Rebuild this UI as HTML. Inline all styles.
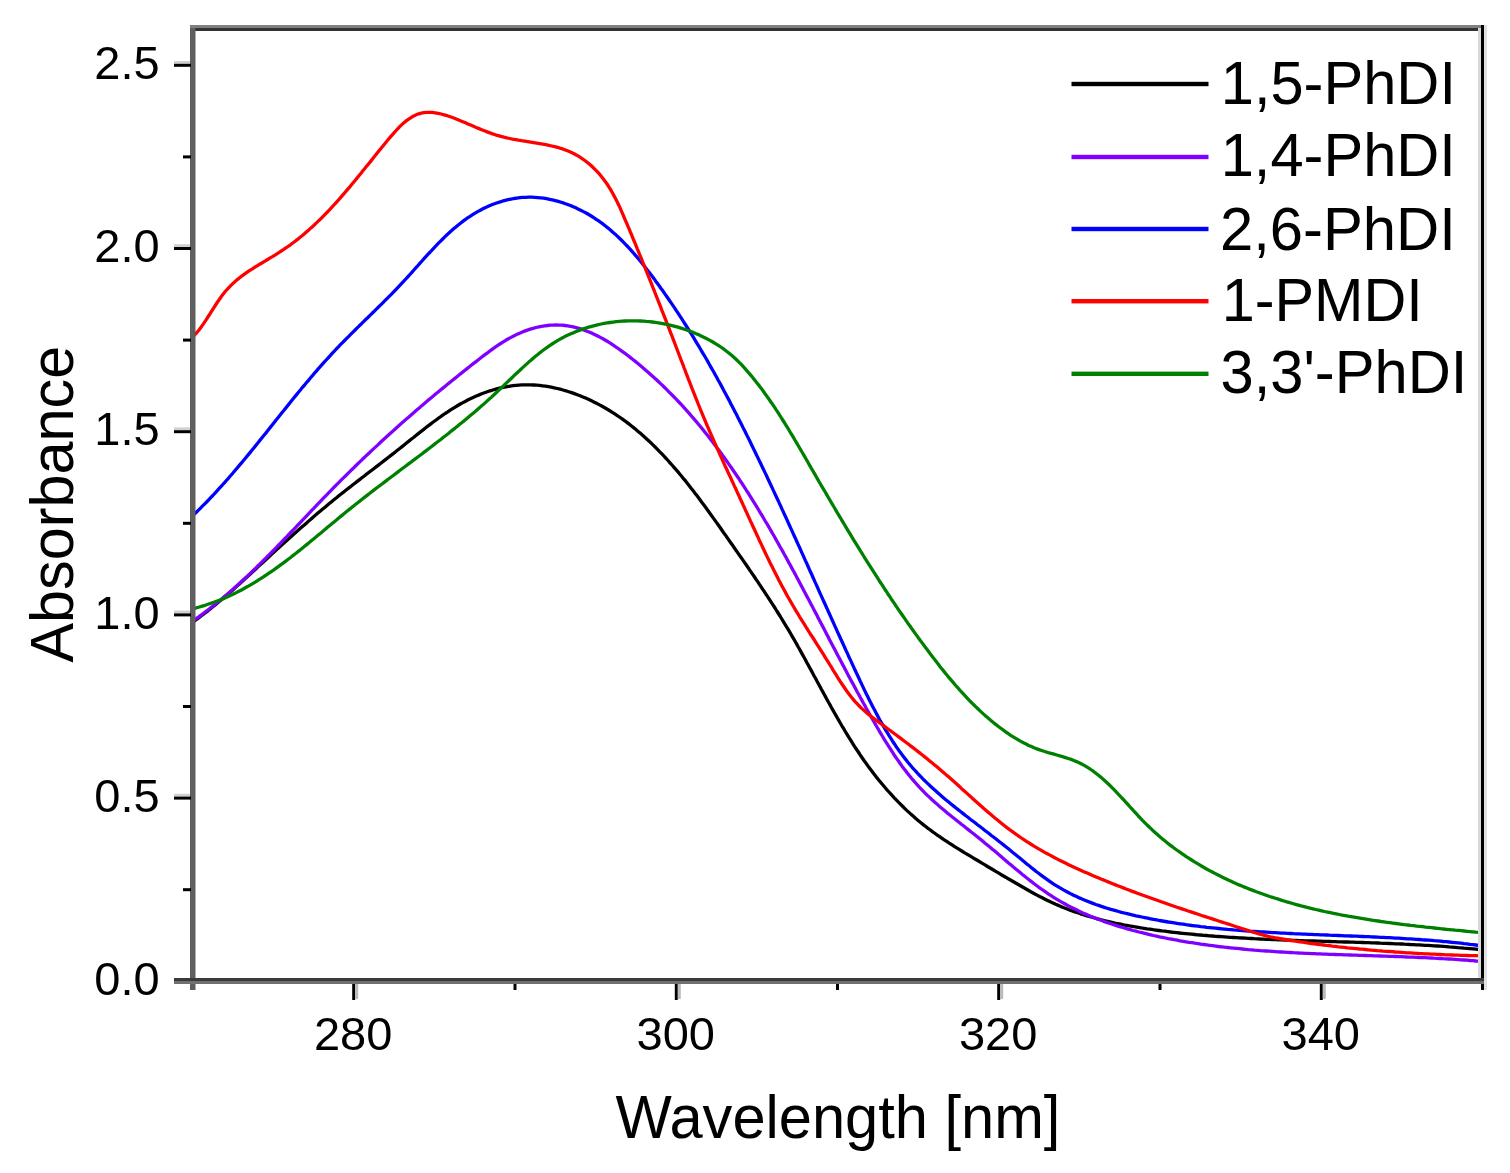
<!DOCTYPE html>
<html><head><meta charset="utf-8"><title>Absorbance spectra</title>
<style>html,body{margin:0;padding:0;background:#fff;width:1510px;height:1173px;overflow:hidden}</style>
</head><body>
<svg width="1510" height="1173" viewBox="0 0 1510 1173" style="display:block">
<rect width="1510" height="1173" fill="#fff"/>
<defs><clipPath id="pc"><rect x="193" y="28" width="1289" height="952"/></clipPath></defs>
<g clip-path="url(#pc)" fill="none" stroke-width="3.3" stroke-linejoin="round" stroke-linecap="round">
<path stroke="#000000" d="M193.8,621.3 L196.2,619.6 L198.7,617.8 L201.1,616.0 L203.4,614.2 L205.8,612.4 L208.2,610.6 L210.5,608.7 L212.9,606.8 L215.2,604.9 L217.5,603.0 L219.8,601.1 L222.1,599.2 L224.4,597.2 L226.6,595.3 L228.9,593.3 L231.1,591.4 L233.4,589.4 L235.6,587.4 L237.8,585.4 L240.1,583.4 L242.3,581.3 L244.5,579.3 L246.7,577.3 L248.9,575.3 L251.1,573.2 L253.3,571.2 L255.5,569.2 L257.7,567.1 L260.0,565.1 L262.2,563.1 L264.4,561.0 L266.6,559.0 L268.8,557.0 L271.0,554.9 L273.2,552.9 L275.4,550.9 L277.6,548.9 L279.8,546.8 L282.0,544.8 L284.2,542.8 L286.5,540.8 L288.7,538.8 L290.9,536.8 L293.1,534.8 L295.4,532.8 L297.6,530.8 L299.8,528.8 L302.1,526.8 L304.3,524.9 L306.6,522.9 L308.8,520.9 L311.1,519.0 L313.3,517.0 L315.6,515.1 L317.9,513.1 L320.1,511.2 L322.4,509.3 L324.7,507.4 L327.0,505.5 L329.3,503.6 L331.6,501.7 L333.9,499.8 L336.2,498.0 L338.5,496.1 L340.8,494.2 L343.2,492.4 L345.5,490.5 L347.8,488.7 L350.2,486.9 L352.5,485.0 L354.9,483.2 L357.2,481.4 L359.6,479.6 L361.9,477.8 L364.3,476.0 L366.6,474.1 L369.0,472.3 L371.4,470.5 L373.7,468.7 L376.1,466.9 L378.4,465.1 L380.8,463.2 L383.2,461.4 L385.5,459.6 L387.9,457.7 L390.3,455.9 L392.6,454.1 L395.0,452.2 L397.4,450.3 L399.7,448.5 L402.1,446.6 L404.4,444.7 L406.8,442.8 L409.2,440.9 L411.5,439.0 L413.9,437.2 L416.2,435.3 L418.6,433.4 L421.0,431.5 L423.4,429.6 L425.7,427.8 L428.1,425.9 L430.5,424.1 L432.9,422.3 L435.4,420.5 L437.8,418.7 L440.2,417.0 L442.7,415.2 L445.2,413.5 L447.7,411.9 L450.2,410.2 L452.7,408.6 L455.2,407.1 L457.8,405.5 L460.3,404.0 L462.9,402.6 L465.6,401.2 L468.2,399.8 L470.9,398.5 L473.6,397.3 L476.3,396.1 L479.0,394.9 L481.7,393.8 L484.5,392.8 L487.3,391.8 L490.1,390.8 L492.9,390.0 L495.8,389.2 L498.6,388.4 L501.5,387.7 L504.4,387.1 L507.2,386.6 L510.1,386.1 L513.0,385.7 L516.0,385.4 L518.9,385.1 L521.8,384.9 L524.8,384.8 L527.7,384.8 L530.7,384.9 L533.6,385.0 L536.6,385.2 L539.5,385.4 L542.5,385.8 L545.4,386.2 L548.4,386.7 L551.3,387.2 L554.2,387.8 L557.2,388.5 L560.1,389.2 L563.0,390.0 L565.9,390.8 L568.7,391.7 L571.6,392.6 L574.4,393.6 L577.3,394.7 L580.1,395.7 L582.9,396.9 L585.6,398.1 L588.4,399.3 L591.1,400.6 L593.8,401.9 L596.5,403.2 L599.1,404.6 L601.7,406.0 L604.3,407.5 L606.9,409.0 L609.4,410.5 L611.9,412.1 L614.4,413.7 L616.9,415.3 L619.4,417.0 L621.8,418.6 L624.2,420.4 L626.6,422.1 L628.9,423.9 L631.2,425.7 L633.6,427.6 L635.9,429.5 L638.1,431.4 L640.4,433.3 L642.6,435.3 L644.8,437.2 L647.0,439.2 L649.2,441.3 L651.4,443.3 L653.5,445.4 L655.6,447.5 L657.7,449.6 L659.8,451.8 L661.9,453.9 L664.0,456.1 L666.0,458.3 L668.0,460.5 L670.0,462.8 L672.0,465.0 L674.0,467.3 L676.0,469.6 L678.0,471.9 L679.9,474.2 L681.8,476.5 L683.7,478.9 L685.7,481.2 L687.5,483.6 L689.4,486.0 L691.3,488.4 L693.2,490.8 L695.0,493.2 L696.9,495.6 L698.7,498.0 L700.5,500.5 L702.3,502.9 L704.1,505.3 L705.9,507.8 L707.7,510.3 L709.5,512.7 L711.3,515.2 L713.0,517.6 L714.8,520.1 L716.6,522.6 L718.3,525.0 L720.1,527.5 L721.8,530.0 L723.5,532.5 L725.3,534.9 L727.0,537.4 L728.7,539.9 L730.4,542.3 L732.2,544.8 L733.9,547.2 L735.6,549.7 L737.3,552.1 L739.0,554.6 L740.7,557.0 L742.4,559.4 L744.1,561.9 L745.8,564.3 L747.5,566.8 L749.1,569.2 L750.8,571.6 L752.5,574.1 L754.2,576.5 L755.8,579.0 L757.5,581.4 L759.1,583.9 L760.8,586.3 L762.4,588.8 L764.0,591.2 L765.6,593.7 L767.3,596.1 L768.9,598.6 L770.5,601.1 L772.1,603.6 L773.7,606.0 L775.3,608.5 L776.8,611.0 L778.4,613.5 L780.0,616.0 L781.5,618.5 L783.1,621.1 L784.6,623.6 L786.1,626.1 L787.7,628.7 L789.2,631.2 L790.7,633.8 L792.2,636.4 L793.7,638.9 L795.2,641.5 L796.7,644.1 L798.1,646.7 L799.6,649.3 L801.0,651.9 L802.5,654.6 L804.0,657.2 L805.4,659.8 L806.8,662.5 L808.3,665.1 L809.7,667.7 L811.2,670.4 L812.6,673.0 L814.0,675.7 L815.5,678.3 L816.9,681.0 L818.4,683.7 L819.8,686.3 L821.2,689.0 L822.7,691.6 L824.1,694.3 L825.6,696.9 L827.0,699.6 L828.5,702.2 L830.0,704.9 L831.4,707.5 L832.9,710.1 L834.4,712.8 L835.9,715.4 L837.4,718.0 L838.9,720.6 L840.4,723.2 L841.9,725.8 L843.5,728.4 L845.0,731.0 L846.6,733.6 L848.1,736.1 L849.7,738.7 L851.3,741.2 L852.9,743.8 L854.5,746.3 L856.1,748.8 L857.8,751.3 L859.5,753.8 L861.1,756.3 L862.8,758.7 L864.5,761.2 L866.3,763.6 L868.0,766.0 L869.8,768.4 L871.6,770.8 L873.4,773.2 L875.2,775.5 L877.0,777.9 L878.9,780.2 L880.8,782.5 L882.7,784.8 L884.6,787.0 L886.5,789.3 L888.5,791.5 L890.5,793.7 L892.5,795.9 L894.5,798.1 L896.5,800.2 L898.6,802.3 L900.7,804.4 L902.8,806.5 L904.9,808.6 L907.0,810.6 L909.2,812.6 L911.4,814.6 L913.6,816.5 L915.8,818.5 L918.1,820.4 L920.3,822.3 L922.6,824.1 L925.0,826.0 L927.3,827.8 L929.7,829.5 L932.0,831.3 L934.4,833.0 L936.8,834.8 L939.3,836.4 L941.7,838.1 L944.2,839.8 L946.7,841.4 L949.2,843.1 L951.7,844.7 L954.2,846.3 L956.7,847.9 L959.2,849.4 L961.8,851.0 L964.3,852.6 L966.9,854.1 L969.5,855.7 L972.0,857.2 L974.6,858.8 L977.2,860.3 L979.8,861.8 L982.4,863.4 L985.0,864.9 L987.5,866.5 L990.1,868.0 L992.7,869.5 L995.3,871.1 L997.9,872.6 L1000.5,874.2 L1003.1,875.7 L1005.7,877.2 L1008.3,878.8 L1010.9,880.3 L1013.5,881.8 L1016.1,883.3 L1018.7,884.8 L1021.3,886.3 L1023.9,887.8 L1026.5,889.3 L1029.1,890.8 L1031.7,892.2 L1034.4,893.7 L1037.0,895.1 L1039.6,896.5 L1042.3,897.8 L1045.0,899.2 L1047.6,900.5 L1050.3,901.8 L1053.0,903.0 L1055.7,904.3 L1058.4,905.4 L1061.1,906.6 L1063.9,907.7 L1066.6,908.8 L1069.4,909.9 L1072.2,910.9 L1074.9,911.9 L1077.7,912.8 L1080.5,913.8 L1083.4,914.7 L1086.2,915.6 L1089.0,916.4 L1091.8,917.2 L1094.7,918.0 L1097.5,918.8 L1100.4,919.6 L1103.3,920.3 L1106.2,921.0 L1109.0,921.7 L1111.9,922.3 L1114.8,923.0 L1117.7,923.6 L1120.7,924.2 L1123.6,924.8 L1126.5,925.3 L1129.4,925.9 L1132.3,926.4 L1135.3,926.9 L1138.2,927.4 L1141.2,927.9 L1144.1,928.3 L1147.1,928.8 L1150.0,929.2 L1153.0,929.7 L1155.9,930.1 L1158.9,930.5 L1161.9,930.9 L1164.8,931.2 L1167.8,931.6 L1170.8,932.0 L1173.7,932.3 L1176.7,932.6 L1179.7,933.0 L1182.6,933.3 L1185.6,933.6 L1188.6,933.9 L1191.6,934.2 L1194.6,934.5 L1197.5,934.8 L1200.5,935.0 L1203.5,935.3 L1206.5,935.5 L1209.5,935.8 L1212.5,936.0 L1215.4,936.3 L1218.4,936.5 L1221.4,936.7 L1224.4,936.9 L1227.4,937.1 L1230.4,937.3 L1233.4,937.5 L1236.4,937.7 L1239.4,937.9 L1242.4,938.0 L1245.4,938.2 L1248.4,938.4 L1251.4,938.5 L1254.4,938.7 L1257.4,938.8 L1260.4,939.0 L1263.4,939.1 L1266.4,939.3 L1269.4,939.4 L1272.4,939.5 L1275.4,939.7 L1278.4,939.8 L1281.4,939.9 L1284.4,940.0 L1287.4,940.1 L1290.4,940.2 L1293.4,940.3 L1296.4,940.4 L1299.4,940.6 L1302.4,940.7 L1305.4,940.8 L1308.4,940.9 L1311.4,940.9 L1314.4,941.0 L1317.4,941.1 L1320.4,941.2 L1323.4,941.3 L1326.4,941.4 L1329.4,941.5 L1332.4,941.6 L1335.4,941.7 L1338.4,941.8 L1341.4,941.9 L1344.4,942.0 L1347.4,942.0 L1350.4,942.1 L1353.4,942.2 L1356.4,942.3 L1359.5,942.4 L1362.5,942.5 L1365.5,942.6 L1368.5,942.7 L1371.5,942.8 L1374.4,942.9 L1377.4,943.0 L1380.4,943.2 L1383.4,943.3 L1386.4,943.4 L1389.4,943.5 L1392.4,943.6 L1395.4,943.8 L1398.4,943.9 L1401.4,944.0 L1404.4,944.2 L1407.4,944.3 L1410.4,944.5 L1413.4,944.6 L1416.3,944.8 L1419.3,944.9 L1422.3,945.1 L1425.3,945.3 L1428.3,945.4 L1431.3,945.6 L1434.2,945.8 L1437.2,946.0 L1440.2,946.2 L1443.2,946.4 L1446.2,946.6 L1449.1,946.9 L1452.1,947.1 L1455.1,947.3 L1458.0,947.6 L1461.0,947.8 L1464.0,948.1 L1466.9,948.3 L1469.9,948.6 L1472.9,948.9 L1475.8,949.2 L1478.8,949.5 L1481.7,949.8"/>
<path stroke="#8000ff" d="M193.8,620.3 L196.2,618.6 L198.7,616.9 L201.1,615.1 L203.5,613.3 L205.8,611.5 L208.2,609.7 L210.6,607.9 L212.9,606.1 L215.2,604.2 L217.6,602.3 L219.9,600.4 L222.2,598.5 L224.4,596.6 L226.7,594.7 L229.0,592.7 L231.2,590.7 L233.5,588.8 L235.7,586.8 L237.9,584.8 L240.1,582.8 L242.3,580.8 L244.5,578.7 L246.7,576.7 L248.9,574.6 L251.1,572.6 L253.2,570.5 L255.4,568.4 L257.5,566.3 L259.7,564.2 L261.8,562.1 L263.9,560.0 L266.1,557.9 L268.2,555.7 L270.3,553.6 L272.4,551.5 L274.5,549.3 L276.6,547.2 L278.7,545.0 L280.8,542.9 L282.9,540.7 L285.0,538.5 L287.1,536.4 L289.1,534.2 L291.2,532.0 L293.3,529.8 L295.4,527.7 L297.4,525.5 L299.5,523.3 L301.6,521.1 L303.7,518.9 L305.7,516.8 L307.8,514.6 L309.9,512.4 L311.9,510.2 L314.0,508.1 L316.1,505.9 L318.2,503.7 L320.2,501.6 L322.3,499.4 L324.4,497.2 L326.5,495.1 L328.6,492.9 L330.6,490.8 L332.7,488.7 L334.8,486.5 L336.9,484.4 L339.0,482.3 L341.1,480.2 L343.2,478.1 L345.4,476.0 L347.5,473.9 L349.6,471.8 L351.7,469.7 L353.9,467.6 L356.0,465.5 L358.1,463.5 L360.3,461.4 L362.4,459.3 L364.6,457.3 L366.7,455.2 L368.9,453.2 L371.1,451.1 L373.2,449.1 L375.4,447.1 L377.6,445.1 L379.8,443.0 L381.9,441.0 L384.1,439.0 L386.3,437.0 L388.5,435.0 L390.7,433.0 L393.0,431.0 L395.2,429.0 L397.4,427.0 L399.6,425.0 L401.8,423.1 L404.1,421.1 L406.3,419.1 L408.6,417.2 L410.8,415.2 L413.1,413.2 L415.3,411.3 L417.6,409.3 L419.9,407.4 L422.1,405.4 L424.4,403.5 L426.7,401.6 L429.0,399.6 L431.3,397.7 L433.6,395.8 L435.9,393.8 L438.2,391.9 L440.5,390.0 L442.9,388.1 L445.2,386.2 L447.5,384.3 L449.9,382.4 L452.2,380.5 L454.6,378.6 L456.9,376.7 L459.3,374.8 L461.7,372.9 L464.0,371.0 L466.4,369.1 L468.8,367.2 L471.2,365.3 L473.6,363.4 L476.0,361.6 L478.4,359.7 L480.9,357.8 L483.3,355.9 L485.7,354.1 L488.2,352.3 L490.7,350.4 L493.1,348.7 L495.6,346.9 L498.1,345.2 L500.7,343.5 L503.2,341.9 L505.8,340.3 L508.4,338.8 L511.0,337.4 L513.7,336.0 L516.4,334.6 L519.1,333.4 L521.8,332.2 L524.6,331.1 L527.4,330.1 L530.2,329.1 L533.1,328.3 L536.0,327.5 L538.9,326.9 L541.7,326.3 L544.6,325.9 L547.6,325.5 L550.5,325.2 L553.4,325.1 L556.2,325.0 L559.1,325.1 L562.0,325.2 L564.8,325.5 L567.7,325.9 L570.5,326.3 L573.3,326.9 L576.1,327.6 L578.8,328.4 L581.6,329.2 L584.3,330.1 L587.0,331.2 L589.7,332.3 L592.4,333.4 L595.1,334.7 L597.7,336.0 L600.3,337.4 L602.9,338.8 L605.5,340.3 L608.1,341.8 L610.7,343.4 L613.2,345.1 L615.7,346.8 L618.2,348.5 L620.7,350.3 L623.2,352.1 L625.7,353.9 L628.1,355.7 L630.5,357.6 L632.9,359.5 L635.3,361.4 L637.6,363.3 L640.0,365.3 L642.3,367.2 L644.6,369.2 L646.9,371.2 L649.2,373.2 L651.4,375.2 L653.7,377.2 L655.9,379.2 L658.1,381.3 L660.3,383.4 L662.5,385.4 L664.6,387.5 L666.8,389.6 L668.9,391.8 L671.0,393.9 L673.1,396.0 L675.2,398.2 L677.3,400.4 L679.3,402.5 L681.4,404.7 L683.4,406.9 L685.4,409.2 L687.4,411.4 L689.4,413.6 L691.3,415.9 L693.3,418.1 L695.2,420.4 L697.2,422.7 L699.1,425.0 L701.0,427.3 L702.9,429.6 L704.7,431.9 L706.6,434.2 L708.5,436.6 L710.3,438.9 L712.1,441.3 L713.9,443.7 L715.7,446.1 L717.5,448.4 L719.3,450.8 L721.1,453.2 L722.8,455.7 L724.6,458.1 L726.3,460.5 L728.0,462.9 L729.7,465.4 L731.4,467.8 L733.1,470.3 L734.8,472.8 L736.5,475.2 L738.2,477.7 L739.8,480.2 L741.5,482.7 L743.1,485.2 L744.7,487.7 L746.3,490.2 L748.0,492.7 L749.6,495.3 L751.2,497.8 L752.7,500.3 L754.3,502.9 L755.9,505.4 L757.4,507.9 L759.0,510.5 L760.5,513.1 L762.1,515.6 L763.6,518.2 L765.1,520.8 L766.7,523.3 L768.2,525.9 L769.7,528.5 L771.2,531.1 L772.7,533.7 L774.2,536.3 L775.6,538.9 L777.1,541.5 L778.6,544.1 L780.0,546.7 L781.5,549.3 L783.0,551.9 L784.4,554.5 L785.9,557.1 L787.3,559.8 L788.7,562.4 L790.2,565.0 L791.6,567.6 L793.0,570.3 L794.5,572.9 L795.9,575.5 L797.3,578.2 L798.7,580.8 L800.1,583.5 L801.5,586.1 L802.9,588.7 L804.3,591.4 L805.7,594.0 L807.1,596.7 L808.5,599.3 L809.9,602.0 L811.3,604.7 L812.7,607.3 L814.1,610.0 L815.5,612.6 L816.9,615.3 L818.2,617.9 L819.6,620.6 L821.0,623.3 L822.4,625.9 L823.8,628.6 L825.2,631.2 L826.6,633.9 L828.0,636.5 L829.3,639.2 L830.7,641.9 L832.1,644.5 L833.5,647.2 L834.9,649.8 L836.3,652.5 L837.7,655.2 L839.1,657.8 L840.5,660.5 L841.9,663.1 L843.3,665.8 L844.7,668.4 L846.1,671.1 L847.5,673.7 L848.9,676.4 L850.3,679.0 L851.7,681.6 L853.2,684.3 L854.6,686.9 L856.0,689.6 L857.4,692.2 L858.9,694.8 L860.3,697.5 L861.8,700.1 L863.2,702.7 L864.7,705.3 L866.1,708.0 L867.6,710.6 L869.1,713.2 L870.5,715.8 L872.0,718.4 L873.5,721.0 L875.0,723.6 L876.5,726.2 L878.0,728.8 L879.5,731.4 L881.0,733.9 L882.6,736.5 L884.1,739.1 L885.7,741.6 L887.3,744.2 L888.9,746.7 L890.5,749.2 L892.1,751.7 L893.7,754.2 L895.4,756.7 L897.1,759.1 L898.8,761.5 L900.5,764.0 L902.2,766.4 L904.0,768.7 L905.8,771.1 L907.6,773.4 L909.5,775.7 L911.3,778.0 L913.3,780.3 L915.2,782.5 L917.1,784.7 L919.1,786.9 L921.2,789.1 L923.2,791.2 L925.3,793.3 L927.4,795.4 L929.6,797.4 L931.8,799.5 L934.0,801.5 L936.2,803.4 L938.4,805.4 L940.7,807.4 L943.0,809.3 L945.3,811.2 L947.6,813.2 L949.9,815.1 L952.3,817.0 L954.6,818.8 L957.0,820.7 L959.3,822.6 L961.7,824.5 L964.1,826.3 L966.5,828.2 L968.9,830.1 L971.2,832.0 L973.6,833.8 L976.0,835.7 L978.4,837.6 L980.7,839.5 L983.1,841.4 L985.4,843.4 L987.7,845.3 L990.1,847.2 L992.4,849.2 L994.7,851.1 L997.0,853.1 L999.3,855.0 L1001.6,857.0 L1003.9,859.0 L1006.2,860.9 L1008.5,862.9 L1010.8,864.8 L1013.1,866.8 L1015.4,868.7 L1017.7,870.6 L1020.1,872.6 L1022.4,874.5 L1024.7,876.3 L1027.1,878.2 L1029.4,880.1 L1031.8,881.9 L1034.1,883.7 L1036.5,885.5 L1038.9,887.3 L1041.3,889.0 L1043.7,890.7 L1046.2,892.4 L1048.6,894.1 L1051.1,895.7 L1053.6,897.3 L1056.1,898.9 L1058.7,900.4 L1061.2,901.9 L1063.8,903.3 L1066.4,904.8 L1069.0,906.2 L1071.7,907.5 L1074.3,908.8 L1077.0,910.1 L1079.7,911.4 L1082.4,912.7 L1085.1,913.9 L1087.8,915.0 L1090.5,916.2 L1093.3,917.3 L1096.1,918.4 L1098.9,919.5 L1101.7,920.5 L1104.5,921.6 L1107.3,922.6 L1110.1,923.5 L1113.0,924.5 L1115.8,925.4 L1118.7,926.3 L1121.6,927.2 L1124.4,928.0 L1127.3,928.9 L1130.2,929.7 L1133.1,930.5 L1136.0,931.2 L1138.9,932.0 L1141.9,932.7 L1144.8,933.4 L1147.7,934.1 L1150.6,934.8 L1153.6,935.5 L1156.5,936.1 L1159.5,936.8 L1162.4,937.4 L1165.4,938.0 L1168.3,938.6 L1171.3,939.1 L1174.2,939.7 L1177.2,940.2 L1180.1,940.8 L1183.1,941.3 L1186.0,941.8 L1189.0,942.3 L1191.9,942.7 L1194.9,943.2 L1197.9,943.6 L1200.8,944.1 L1203.8,944.5 L1206.8,944.9 L1209.7,945.3 L1212.7,945.7 L1215.7,946.1 L1218.6,946.5 L1221.6,946.8 L1224.6,947.2 L1227.6,947.5 L1230.5,947.8 L1233.5,948.1 L1236.5,948.4 L1239.5,948.7 L1242.5,949.0 L1245.4,949.3 L1248.4,949.6 L1251.4,949.8 L1254.4,950.1 L1257.4,950.3 L1260.4,950.6 L1263.4,950.8 L1266.3,951.0 L1269.3,951.2 L1272.3,951.4 L1275.3,951.6 L1278.3,951.8 L1281.3,952.0 L1284.3,952.2 L1287.3,952.4 L1290.3,952.5 L1293.3,952.7 L1296.3,952.8 L1299.3,953.0 L1302.3,953.1 L1305.2,953.3 L1308.2,953.4 L1311.2,953.6 L1314.2,953.7 L1317.2,953.8 L1320.2,953.9 L1323.2,954.1 L1326.2,954.2 L1329.2,954.3 L1332.2,954.4 L1335.2,954.5 L1338.2,954.6 L1341.2,954.7 L1344.2,954.8 L1347.2,954.9 L1350.2,955.0 L1353.2,955.1 L1356.2,955.2 L1359.2,955.3 L1362.2,955.4 L1365.2,955.5 L1368.2,955.6 L1371.2,955.7 L1374.2,955.8 L1377.2,955.9 L1380.2,956.0 L1383.2,956.1 L1386.2,956.2 L1389.2,956.3 L1392.2,956.4 L1395.2,956.5 L1398.2,956.6 L1401.2,956.7 L1404.2,956.8 L1407.2,957.0 L1410.2,957.1 L1413.2,957.2 L1416.2,957.3 L1419.2,957.5 L1422.2,957.6 L1425.2,957.7 L1428.2,957.9 L1431.1,958.0 L1434.1,958.2 L1437.1,958.3 L1440.1,958.5 L1443.1,958.7 L1446.1,958.8 L1449.1,959.0 L1452.1,959.2 L1455.1,959.4 L1458.0,959.6 L1461.0,959.8 L1464.0,960.0 L1467.0,960.2 L1470.0,960.5 L1473.0,960.7 L1475.9,961.0 L1478.9,961.2 L1481.9,961.5"/>
<path stroke="#0000ff" d="M193.9,514.6 L196.1,512.5 L198.2,510.4 L200.3,508.3 L202.4,506.2 L204.5,504.1 L206.6,502.0 L208.7,499.8 L210.7,497.7 L212.8,495.5 L214.8,493.3 L216.8,491.1 L218.8,488.9 L220.9,486.7 L222.8,484.5 L224.8,482.3 L226.8,480.0 L228.8,477.8 L230.7,475.5 L232.7,473.3 L234.6,471.0 L236.6,468.7 L238.5,466.4 L240.4,464.1 L242.4,461.8 L244.3,459.5 L246.2,457.2 L248.1,454.9 L250.0,452.6 L251.9,450.3 L253.8,447.9 L255.7,445.6 L257.6,443.3 L259.4,440.9 L261.3,438.6 L263.2,436.3 L265.1,433.9 L267.0,431.6 L268.8,429.2 L270.7,426.9 L272.6,424.5 L274.4,422.2 L276.3,419.8 L278.2,417.5 L280.1,415.1 L281.9,412.8 L283.8,410.4 L285.7,408.1 L287.6,405.7 L289.5,403.4 L291.3,401.1 L293.2,398.7 L295.1,396.4 L297.0,394.1 L298.9,391.8 L300.8,389.5 L302.7,387.1 L304.7,384.8 L306.6,382.5 L308.5,380.3 L310.4,378.0 L312.4,375.7 L314.3,373.4 L316.3,371.2 L318.2,368.9 L320.2,366.7 L322.2,364.4 L324.2,362.2 L326.2,360.0 L328.2,357.8 L330.2,355.6 L332.2,353.4 L334.3,351.2 L336.3,349.0 L338.4,346.9 L340.4,344.7 L342.5,342.6 L344.6,340.5 L346.7,338.4 L348.8,336.3 L350.9,334.2 L353.0,332.1 L355.1,330.0 L357.2,327.9 L359.3,325.8 L361.5,323.7 L363.6,321.6 L365.7,319.5 L367.9,317.5 L370.0,315.4 L372.1,313.3 L374.3,311.2 L376.4,309.1 L378.5,307.0 L380.7,304.9 L382.8,302.8 L384.9,300.7 L387.0,298.6 L389.2,296.4 L391.3,294.3 L393.4,292.1 L395.5,290.0 L397.5,287.8 L399.6,285.6 L401.7,283.4 L403.8,281.2 L405.8,279.0 L407.8,276.8 L409.9,274.5 L411.9,272.3 L413.9,270.0 L416.0,267.7 L418.0,265.5 L420.0,263.2 L422.0,261.0 L424.0,258.7 L426.1,256.4 L428.1,254.2 L430.2,252.0 L432.2,249.8 L434.3,247.6 L436.4,245.4 L438.5,243.2 L440.6,241.1 L442.7,239.0 L444.8,236.9 L447.0,234.8 L449.2,232.8 L451.4,230.8 L453.6,228.8 L455.9,226.9 L458.2,225.0 L460.5,223.2 L462.8,221.4 L465.2,219.6 L467.6,217.9 L470.1,216.3 L472.6,214.7 L475.1,213.1 L477.7,211.6 L480.3,210.2 L482.9,208.8 L485.6,207.5 L488.3,206.3 L491.1,205.1 L493.8,204.0 L496.6,203.0 L499.5,202.1 L502.3,201.2 L505.2,200.4 L508.1,199.7 L511.0,199.1 L513.9,198.5 L516.8,198.1 L519.8,197.7 L522.8,197.4 L525.7,197.3 L528.7,197.2 L531.7,197.2 L534.7,197.4 L537.6,197.6 L540.6,197.9 L543.6,198.2 L546.5,198.7 L549.5,199.3 L552.4,199.9 L555.3,200.6 L558.3,201.4 L561.1,202.3 L564.0,203.2 L566.9,204.2 L569.7,205.3 L572.5,206.4 L575.3,207.6 L578.0,208.9 L580.7,210.2 L583.4,211.6 L586.1,213.0 L588.7,214.5 L591.2,216.0 L593.7,217.6 L596.2,219.3 L598.7,220.9 L601.1,222.7 L603.5,224.4 L605.8,226.3 L608.1,228.1 L610.4,230.0 L612.6,232.0 L614.9,233.9 L617.0,235.9 L619.2,238.0 L621.3,240.0 L623.4,242.2 L625.5,244.3 L627.6,246.5 L629.6,248.6 L631.6,250.9 L633.6,253.1 L635.5,255.4 L637.5,257.7 L639.4,260.0 L641.3,262.3 L643.2,264.6 L645.0,267.0 L646.9,269.4 L648.7,271.7 L650.5,274.1 L652.4,276.5 L654.2,278.9 L655.9,281.4 L657.7,283.8 L659.5,286.2 L661.2,288.7 L663.0,291.1 L664.7,293.6 L666.4,296.0 L668.1,298.5 L669.8,301.0 L671.5,303.4 L673.2,305.9 L674.9,308.4 L676.5,310.9 L678.2,313.4 L679.8,315.9 L681.5,318.4 L683.1,321.0 L684.7,323.5 L686.3,326.0 L687.9,328.5 L689.5,331.1 L691.1,333.6 L692.7,336.2 L694.2,338.7 L695.8,341.3 L697.3,343.8 L698.9,346.4 L700.4,349.0 L701.9,351.6 L703.4,354.1 L705.0,356.7 L706.5,359.3 L708.0,361.9 L709.4,364.5 L710.9,367.1 L712.4,369.7 L713.9,372.3 L715.3,374.9 L716.8,377.5 L718.2,380.2 L719.7,382.8 L721.1,385.4 L722.5,388.1 L723.9,390.7 L725.3,393.3 L726.8,396.0 L728.2,398.6 L729.6,401.3 L730.9,403.9 L732.3,406.6 L733.7,409.2 L735.1,411.9 L736.5,414.5 L737.8,417.2 L739.2,419.9 L740.5,422.5 L741.9,425.2 L743.2,427.9 L744.6,430.6 L745.9,433.2 L747.2,435.9 L748.6,438.6 L749.9,441.3 L751.2,444.0 L752.5,446.7 L753.8,449.4 L755.1,452.0 L756.4,454.7 L757.7,457.4 L759.0,460.1 L760.3,462.8 L761.6,465.5 L762.9,468.2 L764.2,470.9 L765.5,473.6 L766.8,476.3 L768.0,479.0 L769.3,481.7 L770.6,484.5 L771.9,487.2 L773.1,489.9 L774.4,492.6 L775.6,495.3 L776.9,498.0 L778.2,500.7 L779.4,503.4 L780.7,506.1 L781.9,508.9 L783.2,511.6 L784.4,514.3 L785.7,517.0 L786.9,519.7 L788.1,522.4 L789.4,525.2 L790.6,527.9 L791.9,530.6 L793.1,533.3 L794.3,536.0 L795.6,538.8 L796.8,541.5 L798.0,544.2 L799.3,546.9 L800.5,549.7 L801.7,552.4 L803.0,555.1 L804.2,557.9 L805.4,560.6 L806.7,563.3 L807.9,566.0 L809.1,568.8 L810.3,571.5 L811.6,574.2 L812.8,577.0 L814.0,579.7 L815.2,582.4 L816.5,585.1 L817.7,587.9 L818.9,590.6 L820.1,593.3 L821.4,596.1 L822.6,598.8 L823.8,601.5 L825.1,604.3 L826.3,607.0 L827.5,609.7 L828.8,612.5 L830.0,615.2 L831.2,617.9 L832.5,620.7 L833.7,623.4 L834.9,626.1 L836.2,628.9 L837.4,631.6 L838.6,634.3 L839.9,637.0 L841.1,639.8 L842.4,642.5 L843.6,645.2 L844.9,648.0 L846.1,650.7 L847.4,653.4 L848.6,656.2 L849.9,658.9 L851.2,661.6 L852.4,664.3 L853.7,667.1 L854.9,669.8 L856.2,672.5 L857.5,675.3 L858.8,678.0 L860.0,680.7 L861.3,683.4 L862.6,686.1 L863.9,688.9 L865.2,691.6 L866.5,694.3 L867.9,697.0 L869.2,699.7 L870.5,702.3 L871.9,705.0 L873.3,707.7 L874.7,710.3 L876.1,713.0 L877.5,715.6 L878.9,718.2 L880.3,720.9 L881.8,723.4 L883.3,726.0 L884.8,728.6 L886.3,731.2 L887.9,733.7 L889.4,736.2 L891.0,738.7 L892.6,741.2 L894.3,743.7 L895.9,746.2 L897.6,748.6 L899.3,751.0 L901.1,753.4 L902.8,755.8 L904.6,758.1 L906.5,760.4 L908.3,762.7 L910.2,765.0 L912.1,767.3 L914.1,769.5 L916.1,771.7 L918.1,773.9 L920.2,776.0 L922.2,778.2 L924.3,780.3 L926.5,782.4 L928.6,784.4 L930.8,786.5 L933.0,788.5 L935.3,790.5 L937.5,792.5 L939.8,794.5 L942.0,796.5 L944.3,798.4 L946.7,800.4 L949.0,802.3 L951.3,804.2 L953.7,806.1 L956.0,808.0 L958.4,809.9 L960.8,811.7 L963.2,813.6 L965.5,815.5 L967.9,817.3 L970.3,819.2 L972.7,821.0 L975.1,822.8 L977.5,824.7 L979.9,826.5 L982.2,828.3 L984.6,830.2 L987.0,832.0 L989.3,833.8 L991.7,835.7 L994.1,837.5 L996.4,839.3 L998.8,841.2 L1001.1,843.0 L1003.5,844.9 L1005.8,846.7 L1008.1,848.6 L1010.5,850.5 L1012.8,852.4 L1015.1,854.3 L1017.5,856.2 L1019.8,858.1 L1022.1,860.0 L1024.5,862.0 L1026.8,863.9 L1029.2,865.8 L1031.5,867.7 L1033.9,869.6 L1036.2,871.5 L1038.6,873.3 L1041.0,875.1 L1043.4,876.9 L1045.9,878.7 L1048.3,880.4 L1050.8,882.1 L1053.3,883.8 L1055.8,885.4 L1058.3,886.9 L1060.9,888.4 L1063.4,889.9 L1066.0,891.3 L1068.7,892.7 L1071.3,894.1 L1074.0,895.4 L1076.6,896.6 L1079.3,897.9 L1082.0,899.0 L1084.8,900.2 L1087.5,901.3 L1090.3,902.4 L1093.0,903.4 L1095.8,904.5 L1098.6,905.4 L1101.4,906.4 L1104.3,907.3 L1107.1,908.2 L1110.0,909.1 L1112.8,909.9 L1115.7,910.7 L1118.6,911.5 L1121.4,912.3 L1124.3,913.0 L1127.2,913.7 L1130.1,914.4 L1133.1,915.1 L1136.0,915.8 L1138.9,916.4 L1141.8,917.0 L1144.8,917.6 L1147.7,918.2 L1150.6,918.8 L1153.6,919.4 L1156.5,919.9 L1159.4,920.5 L1162.4,921.0 L1165.3,921.5 L1168.3,922.0 L1171.2,922.4 L1174.2,922.9 L1177.1,923.4 L1180.1,923.8 L1183.1,924.2 L1186.0,924.7 L1189.0,925.1 L1191.9,925.5 L1194.9,925.8 L1197.9,926.2 L1200.8,926.6 L1203.8,926.9 L1206.8,927.3 L1209.8,927.6 L1212.7,927.9 L1215.7,928.2 L1218.7,928.5 L1221.7,928.8 L1224.7,929.1 L1227.6,929.4 L1230.6,929.6 L1233.6,929.9 L1236.6,930.1 L1239.6,930.4 L1242.6,930.6 L1245.6,930.8 L1248.6,931.1 L1251.5,931.3 L1254.5,931.5 L1257.5,931.7 L1260.5,931.9 L1263.5,932.0 L1266.5,932.2 L1269.5,932.4 L1272.5,932.6 L1275.5,932.7 L1278.5,932.9 L1281.5,933.1 L1284.5,933.2 L1287.5,933.4 L1290.5,933.5 L1293.5,933.7 L1296.5,933.8 L1299.5,933.9 L1302.5,934.1 L1305.5,934.2 L1308.5,934.3 L1311.5,934.4 L1314.5,934.6 L1317.5,934.7 L1320.5,934.8 L1323.5,934.9 L1326.5,935.0 L1329.5,935.2 L1332.5,935.3 L1335.6,935.4 L1338.6,935.5 L1341.6,935.6 L1344.6,935.8 L1347.6,935.9 L1350.6,936.0 L1353.6,936.1 L1356.6,936.2 L1359.6,936.4 L1362.6,936.5 L1365.6,936.6 L1368.6,936.7 L1371.6,936.9 L1374.6,937.0 L1377.6,937.1 L1380.6,937.3 L1383.5,937.4 L1386.5,937.6 L1389.5,937.7 L1392.5,937.9 L1395.5,938.1 L1398.5,938.2 L1401.5,938.4 L1404.5,938.6 L1407.5,938.8 L1410.5,938.9 L1413.4,939.1 L1416.4,939.3 L1419.4,939.5 L1422.4,939.8 L1425.4,940.0 L1428.4,940.2 L1431.3,940.4 L1434.3,940.7 L1437.3,940.9 L1440.3,941.2 L1443.2,941.5 L1446.2,941.7 L1449.2,942.0 L1452.1,942.3 L1455.1,942.6 L1458.1,942.9 L1461.0,943.2 L1464.0,943.6 L1466.9,943.9 L1469.9,944.3 L1472.8,944.6 L1475.8,945.0 L1478.7,945.4 L1481.7,945.8"/>
<path stroke="#ff0000" d="M193.4,336.3 L195.4,334.2 L197.3,332.0 L199.2,329.7 L201.0,327.3 L202.7,324.9 L204.4,322.4 L206.1,319.9 L207.7,317.3 L209.4,314.8 L211.0,312.2 L212.6,309.6 L214.2,307.1 L215.9,304.5 L217.5,302.0 L219.3,299.5 L221.0,297.0 L222.8,294.6 L224.7,292.2 L226.6,290.0 L228.6,287.8 L230.7,285.6 L232.8,283.6 L235.0,281.6 L237.3,279.6 L239.6,277.8 L242.0,275.9 L244.4,274.2 L246.9,272.4 L249.4,270.7 L252.0,269.1 L254.5,267.4 L257.1,265.8 L259.7,264.2 L262.3,262.7 L265.0,261.1 L267.6,259.5 L270.2,257.9 L272.8,256.4 L275.4,254.8 L278.0,253.2 L280.5,251.5 L283.0,249.9 L285.5,248.2 L288.0,246.5 L290.4,244.8 L292.8,243.0 L295.2,241.2 L297.5,239.4 L299.8,237.5 L302.1,235.7 L304.4,233.8 L306.6,231.8 L308.8,229.9 L311.0,227.9 L313.2,226.0 L315.4,223.9 L317.5,221.9 L319.6,219.9 L321.7,217.8 L323.8,215.7 L325.8,213.6 L327.9,211.5 L329.9,209.3 L331.9,207.2 L333.9,205.0 L335.9,202.8 L337.9,200.6 L339.9,198.4 L341.8,196.2 L343.8,193.9 L345.7,191.7 L347.6,189.4 L349.6,187.1 L351.5,184.8 L353.4,182.5 L355.3,180.2 L357.2,177.9 L359.1,175.5 L361.0,173.2 L362.9,170.8 L364.8,168.5 L366.7,166.1 L368.7,163.7 L370.6,161.4 L372.5,159.0 L374.4,156.6 L376.3,154.2 L378.2,151.8 L380.2,149.4 L382.1,147.0 L384.1,144.6 L386.0,142.2 L388.0,139.8 L390.0,137.4 L392.0,135.1 L394.0,132.8 L396.1,130.5 L398.1,128.3 L400.2,126.1 L402.4,124.1 L404.6,122.2 L406.8,120.4 L409.1,118.8 L411.4,117.3 L413.8,115.9 L416.2,114.8 L418.8,113.8 L421.3,113.1 L424.0,112.6 L426.7,112.3 L429.5,112.3 L432.3,112.4 L435.2,112.8 L438.2,113.3 L441.2,114.0 L444.2,114.8 L447.2,115.7 L450.2,116.7 L453.2,117.8 L456.2,119.0 L459.2,120.2 L462.1,121.4 L465.0,122.6 L467.9,123.9 L470.7,125.1 L473.5,126.3 L476.2,127.5 L479.0,128.6 L481.7,129.7 L484.4,130.8 L487.2,131.9 L489.9,132.9 L492.6,133.9 L495.4,134.8 L498.2,135.6 L501.0,136.4 L503.9,137.2 L506.8,137.9 L509.7,138.5 L512.6,139.1 L515.6,139.6 L518.6,140.2 L521.6,140.7 L524.6,141.1 L527.7,141.6 L530.7,142.1 L533.7,142.6 L536.8,143.1 L539.8,143.6 L542.8,144.1 L545.8,144.7 L548.8,145.3 L551.7,146.0 L554.7,146.7 L557.6,147.4 L560.4,148.3 L563.3,149.2 L566.0,150.2 L568.8,151.3 L571.5,152.5 L574.1,153.8 L576.7,155.2 L579.2,156.7 L581.7,158.3 L584.1,160.0 L586.4,161.7 L588.7,163.6 L591.0,165.5 L593.1,167.5 L595.2,169.6 L597.3,171.7 L599.3,173.9 L601.2,176.2 L603.0,178.5 L604.8,180.9 L606.5,183.3 L608.2,185.8 L609.8,188.3 L611.3,190.9 L612.8,193.5 L614.2,196.1 L615.6,198.8 L617.0,201.5 L618.3,204.2 L619.6,206.9 L620.8,209.7 L622.0,212.4 L623.2,215.2 L624.4,218.0 L625.6,220.8 L626.8,223.5 L628.0,226.3 L629.2,229.1 L630.3,231.9 L631.5,234.7 L632.6,237.5 L633.8,240.3 L635.0,243.0 L636.1,245.8 L637.2,248.6 L638.4,251.4 L639.5,254.2 L640.7,256.9 L641.8,259.7 L642.9,262.5 L644.0,265.3 L645.2,268.1 L646.3,270.8 L647.4,273.6 L648.5,276.4 L649.6,279.2 L650.7,281.9 L651.8,284.7 L652.9,287.5 L654.0,290.2 L655.1,293.0 L656.2,295.8 L657.3,298.5 L658.4,301.3 L659.5,304.1 L660.6,306.8 L661.6,309.6 L662.7,312.4 L663.8,315.1 L664.9,317.9 L666.0,320.6 L667.0,323.4 L668.1,326.1 L669.2,328.9 L670.2,331.7 L671.3,334.4 L672.4,337.2 L673.4,339.9 L674.5,342.7 L675.6,345.5 L676.6,348.2 L677.7,351.0 L678.7,353.7 L679.8,356.5 L680.8,359.3 L681.9,362.0 L683.0,364.8 L684.0,367.6 L685.1,370.3 L686.1,373.1 L687.2,375.8 L688.2,378.6 L689.3,381.4 L690.4,384.1 L691.4,386.9 L692.5,389.7 L693.6,392.4 L694.7,395.2 L695.8,398.0 L696.9,400.7 L698.0,403.5 L699.1,406.2 L700.2,409.0 L701.3,411.7 L702.5,414.5 L703.6,417.2 L704.8,420.0 L705.9,422.7 L707.1,425.5 L708.3,428.2 L709.5,431.0 L710.7,433.7 L711.9,436.4 L713.1,439.2 L714.3,441.9 L715.5,444.7 L716.7,447.4 L718.0,450.1 L719.2,452.9 L720.4,455.6 L721.7,458.3 L722.9,461.1 L724.2,463.8 L725.4,466.5 L726.7,469.2 L727.9,472.0 L729.2,474.7 L730.5,477.4 L731.7,480.2 L733.0,482.9 L734.2,485.6 L735.5,488.3 L736.8,491.1 L738.0,493.8 L739.3,496.5 L740.5,499.3 L741.8,502.0 L743.0,504.7 L744.3,507.4 L745.5,510.2 L746.8,512.9 L748.0,515.6 L749.3,518.4 L750.5,521.1 L751.8,523.8 L753.0,526.5 L754.3,529.3 L755.6,532.0 L756.8,534.7 L758.1,537.4 L759.3,540.2 L760.6,542.9 L761.9,545.6 L763.1,548.3 L764.4,551.0 L765.7,553.7 L767.0,556.4 L768.3,559.1 L769.6,561.8 L770.9,564.4 L772.3,567.1 L773.6,569.8 L775.0,572.5 L776.3,575.1 L777.7,577.8 L779.0,580.4 L780.4,583.1 L781.8,585.7 L783.2,588.3 L784.7,591.0 L786.1,593.6 L787.5,596.2 L789.0,598.8 L790.5,601.4 L792.0,604.0 L793.5,606.5 L795.0,609.1 L796.5,611.7 L798.1,614.2 L799.6,616.8 L801.2,619.3 L802.8,621.8 L804.4,624.4 L805.9,626.9 L807.5,629.4 L809.1,632.0 L810.7,634.5 L812.4,637.0 L814.0,639.5 L815.6,642.1 L817.2,644.6 L818.8,647.1 L820.4,649.7 L822.0,652.2 L823.6,654.7 L825.2,657.3 L826.8,659.8 L828.4,662.4 L830.0,665.0 L831.6,667.5 L833.1,670.1 L834.7,672.7 L836.3,675.2 L837.9,677.8 L839.5,680.3 L841.1,682.8 L842.8,685.3 L844.5,687.8 L846.2,690.2 L847.9,692.6 L849.7,695.0 L851.5,697.3 L853.4,699.6 L855.3,701.8 L857.3,703.9 L859.3,706.0 L861.4,708.1 L863.6,710.1 L865.8,712.0 L868.0,713.9 L870.3,715.8 L872.6,717.6 L875.0,719.4 L877.4,721.1 L879.8,722.9 L882.2,724.7 L884.6,726.4 L887.0,728.2 L889.4,730.0 L891.8,731.7 L894.2,733.5 L896.6,735.3 L899.0,737.1 L901.4,738.9 L903.8,740.7 L906.2,742.5 L908.6,744.3 L910.9,746.1 L913.3,747.9 L915.7,749.8 L918.0,751.6 L920.4,753.4 L922.7,755.3 L925.0,757.1 L927.4,759.0 L929.7,760.9 L932.0,762.8 L934.3,764.7 L936.6,766.6 L938.9,768.5 L941.2,770.4 L943.5,772.4 L945.7,774.4 L948.0,776.3 L950.2,778.3 L952.5,780.3 L954.7,782.3 L957.0,784.3 L959.2,786.3 L961.4,788.4 L963.7,790.4 L965.9,792.4 L968.1,794.4 L970.4,796.4 L972.6,798.5 L974.8,800.5 L977.1,802.5 L979.3,804.5 L981.6,806.5 L983.8,808.5 L986.1,810.4 L988.4,812.4 L990.6,814.3 L992.9,816.3 L995.2,818.2 L997.5,820.1 L999.9,822.0 L1002.2,823.9 L1004.5,825.7 L1006.9,827.6 L1009.3,829.4 L1011.7,831.1 L1014.1,832.9 L1016.5,834.6 L1019.0,836.3 L1021.4,838.0 L1023.9,839.7 L1026.4,841.3 L1028.9,842.9 L1031.4,844.5 L1034.0,846.1 L1036.5,847.6 L1039.1,849.1 L1041.7,850.6 L1044.2,852.1 L1046.9,853.5 L1049.5,854.9 L1052.1,856.3 L1054.7,857.7 L1057.4,859.1 L1060.1,860.5 L1062.7,861.8 L1065.4,863.1 L1068.1,864.4 L1070.8,865.7 L1073.5,867.0 L1076.2,868.2 L1079.0,869.5 L1081.7,870.7 L1084.4,871.9 L1087.2,873.1 L1089.9,874.3 L1092.7,875.5 L1095.5,876.7 L1098.2,877.8 L1101.0,879.0 L1103.8,880.1 L1106.6,881.3 L1109.3,882.4 L1112.1,883.5 L1114.9,884.6 L1117.7,885.7 L1120.5,886.8 L1123.3,887.9 L1126.1,889.0 L1128.9,890.0 L1131.7,891.1 L1134.5,892.1 L1137.4,893.2 L1140.2,894.2 L1143.0,895.3 L1145.8,896.3 L1148.6,897.3 L1151.4,898.3 L1154.3,899.3 L1157.1,900.3 L1159.9,901.3 L1162.7,902.3 L1165.6,903.3 L1168.4,904.3 L1171.2,905.2 L1174.1,906.2 L1176.9,907.2 L1179.7,908.1 L1182.6,909.1 L1185.4,910.0 L1188.2,911.0 L1191.0,911.9 L1193.9,912.9 L1196.7,913.8 L1199.5,914.7 L1202.4,915.7 L1205.2,916.6 L1208.0,917.5 L1210.8,918.4 L1213.7,919.4 L1216.5,920.3 L1219.3,921.2 L1222.1,922.1 L1224.9,923.0 L1227.8,923.9 L1230.6,924.8 L1233.4,925.8 L1236.2,926.7 L1239.0,927.6 L1241.8,928.5 L1244.7,929.4 L1247.5,930.3 L1250.3,931.3 L1253.1,932.2 L1256.0,933.0 L1258.8,933.9 L1261.7,934.7 L1264.5,935.4 L1267.4,936.1 L1270.3,936.8 L1273.2,937.4 L1276.2,938.0 L1279.1,938.5 L1282.0,939.0 L1285.0,939.5 L1287.9,940.0 L1290.9,940.5 L1293.8,940.9 L1296.8,941.4 L1299.8,941.8 L1302.7,942.2 L1305.7,942.6 L1308.7,943.1 L1311.6,943.5 L1314.6,943.9 L1317.6,944.3 L1320.5,944.6 L1323.5,945.0 L1326.5,945.4 L1329.5,945.7 L1332.4,946.1 L1335.4,946.4 L1338.4,946.8 L1341.4,947.1 L1344.4,947.4 L1347.3,947.8 L1350.3,948.1 L1353.3,948.4 L1356.3,948.7 L1359.3,949.0 L1362.3,949.2 L1365.3,949.5 L1368.2,949.8 L1371.2,950.1 L1374.2,950.3 L1377.2,950.6 L1380.2,950.8 L1383.2,951.1 L1386.2,951.3 L1389.2,951.5 L1392.2,951.7 L1395.2,952.0 L1398.2,952.2 L1401.1,952.4 L1404.1,952.6 L1407.1,952.8 L1410.1,952.9 L1413.1,953.1 L1416.1,953.3 L1419.1,953.5 L1422.1,953.6 L1425.1,953.8 L1428.1,953.9 L1431.1,954.1 L1434.1,954.2 L1437.1,954.4 L1440.1,954.5 L1443.1,954.6 L1446.1,954.8 L1449.1,954.9 L1452.1,955.0 L1455.0,955.1 L1458.0,955.2 L1461.0,955.3 L1464.0,955.4 L1467.0,955.5 L1470.0,955.6 L1473.0,955.6 L1476.0,955.7 L1479.0,955.8 L1482.0,955.9"/>
<path stroke="#008000" d="M193.3,608.6 L196.3,607.8 L199.3,607.0 L202.2,606.1 L205.2,605.3 L208.0,604.3 L210.9,603.3 L213.8,602.3 L216.6,601.3 L219.4,600.2 L222.1,599.1 L224.9,597.9 L227.6,596.7 L230.3,595.4 L233.0,594.2 L235.7,592.9 L238.4,591.5 L241.0,590.2 L243.6,588.7 L246.2,587.3 L248.8,585.9 L251.4,584.4 L253.9,582.9 L256.4,581.3 L259.0,579.7 L261.5,578.2 L263.9,576.5 L266.4,574.9 L268.9,573.2 L271.3,571.6 L273.8,569.9 L276.2,568.1 L278.6,566.4 L281.0,564.6 L283.4,562.9 L285.8,561.1 L288.2,559.3 L290.6,557.5 L292.9,555.6 L295.3,553.8 L297.6,551.9 L300.0,550.1 L302.3,548.2 L304.6,546.3 L307.0,544.4 L309.3,542.5 L311.6,540.6 L313.9,538.7 L316.2,536.8 L318.6,534.8 L320.9,532.9 L323.2,531.0 L325.5,529.1 L327.8,527.1 L330.1,525.2 L332.4,523.3 L334.7,521.4 L337.0,519.5 L339.3,517.5 L341.7,515.6 L344.0,513.7 L346.3,511.8 L348.6,509.9 L351.0,508.1 L353.3,506.2 L355.7,504.3 L358.0,502.5 L360.4,500.6 L362.7,498.8 L365.1,496.9 L367.4,495.1 L369.8,493.3 L372.2,491.4 L374.5,489.6 L376.9,487.8 L379.3,486.0 L381.7,484.2 L384.1,482.4 L386.4,480.6 L388.8,478.8 L391.2,477.0 L393.6,475.2 L396.0,473.4 L398.3,471.6 L400.7,469.8 L403.1,468.0 L405.5,466.2 L407.9,464.4 L410.3,462.7 L412.6,460.9 L415.0,459.1 L417.4,457.3 L419.8,455.5 L422.2,453.7 L424.5,451.9 L426.9,450.1 L429.3,448.3 L431.6,446.5 L434.0,444.6 L436.4,442.8 L438.7,441.0 L441.1,439.2 L443.4,437.3 L445.8,435.5 L448.1,433.7 L450.4,431.8 L452.8,429.9 L455.1,428.1 L457.4,426.2 L459.7,424.3 L462.0,422.5 L464.4,420.6 L466.6,418.7 L468.9,416.7 L471.2,414.8 L473.5,412.9 L475.8,411.0 L478.0,409.0 L480.3,407.0 L482.6,405.1 L484.8,403.1 L487.0,401.1 L489.3,399.1 L491.5,397.1 L493.7,395.0 L495.9,393.0 L498.1,390.9 L500.3,388.9 L502.5,386.8 L504.6,384.7 L506.8,382.6 L509.0,380.5 L511.2,378.5 L513.3,376.4 L515.5,374.3 L517.7,372.2 L519.9,370.2 L522.1,368.1 L524.3,366.1 L526.5,364.1 L528.7,362.1 L531.0,360.2 L533.2,358.2 L535.5,356.3 L537.8,354.5 L540.1,352.6 L542.5,350.8 L544.8,349.0 L547.2,347.3 L549.6,345.6 L552.1,344.0 L554.6,342.4 L557.1,340.9 L559.6,339.4 L562.2,338.0 L564.8,336.6 L567.5,335.3 L570.2,334.1 L572.9,332.9 L575.6,331.7 L578.4,330.6 L581.2,329.6 L584.0,328.6 L586.8,327.7 L589.7,326.9 L592.6,326.1 L595.5,325.3 L598.4,324.6 L601.3,324.0 L604.3,323.4 L607.2,322.9 L610.2,322.5 L613.2,322.1 L616.2,321.7 L619.2,321.4 L622.2,321.2 L625.2,321.0 L628.2,320.9 L631.3,320.8 L634.3,320.8 L637.3,320.9 L640.3,321.0 L643.3,321.1 L646.3,321.4 L649.3,321.6 L652.3,322.0 L655.3,322.4 L658.3,322.8 L661.3,323.3 L664.2,323.9 L667.2,324.5 L670.1,325.1 L673.0,325.8 L675.9,326.6 L678.8,327.4 L681.7,328.3 L684.5,329.2 L687.3,330.2 L690.1,331.2 L692.9,332.3 L695.6,333.5 L698.4,334.6 L701.1,335.9 L703.7,337.2 L706.4,338.5 L709.0,339.9 L711.5,341.3 L714.1,342.8 L716.6,344.3 L719.1,345.9 L721.5,347.5 L723.9,349.2 L726.2,351.0 L728.5,352.8 L730.8,354.6 L733.0,356.5 L735.2,358.5 L737.3,360.5 L739.4,362.6 L741.5,364.7 L743.5,366.9 L745.5,369.1 L747.4,371.3 L749.4,373.6 L751.3,375.8 L753.1,378.1 L755.0,380.4 L756.8,382.8 L758.7,385.1 L760.5,387.5 L762.3,389.8 L764.0,392.2 L765.8,394.7 L767.5,397.1 L769.2,399.5 L770.9,402.0 L772.6,404.4 L774.3,406.9 L775.9,409.4 L777.6,411.9 L779.2,414.4 L780.8,417.0 L782.4,419.5 L784.0,422.0 L785.6,424.6 L787.2,427.1 L788.8,429.7 L790.3,432.3 L791.9,434.9 L793.4,437.4 L794.9,440.0 L796.5,442.6 L798.0,445.2 L799.5,447.8 L801.0,450.4 L802.6,453.0 L804.1,455.6 L805.6,458.2 L807.1,460.8 L808.6,463.5 L810.1,466.1 L811.6,468.7 L813.1,471.3 L814.6,473.9 L816.1,476.5 L817.6,479.1 L819.1,481.7 L820.6,484.3 L822.1,486.9 L823.6,489.4 L825.2,492.0 L826.7,494.6 L828.2,497.2 L829.7,499.8 L831.2,502.4 L832.7,504.9 L834.3,507.5 L835.8,510.1 L837.3,512.7 L838.8,515.2 L840.4,517.8 L841.9,520.4 L843.4,522.9 L845.0,525.5 L846.5,528.1 L848.0,530.6 L849.6,533.2 L851.1,535.7 L852.7,538.3 L854.2,540.8 L855.8,543.4 L857.4,545.9 L858.9,548.4 L860.5,551.0 L862.1,553.5 L863.6,556.0 L865.2,558.6 L866.8,561.1 L868.4,563.6 L870.0,566.2 L871.6,568.7 L873.2,571.2 L874.8,573.7 L876.4,576.2 L878.0,578.7 L879.6,581.2 L881.3,583.7 L882.9,586.2 L884.5,588.7 L886.2,591.2 L887.8,593.7 L889.5,596.2 L891.1,598.7 L892.8,601.2 L894.5,603.6 L896.1,606.1 L897.8,608.6 L899.5,611.1 L901.2,613.5 L902.9,616.0 L904.6,618.4 L906.3,620.9 L908.0,623.4 L909.8,625.8 L911.5,628.3 L913.3,630.7 L915.0,633.1 L916.8,635.6 L918.5,638.0 L920.3,640.4 L922.1,642.9 L923.9,645.3 L925.7,647.7 L927.5,650.1 L929.3,652.5 L931.1,654.9 L932.9,657.3 L934.8,659.7 L936.6,662.1 L938.5,664.5 L940.3,666.9 L942.2,669.3 L944.1,671.6 L946.0,674.0 L947.9,676.3 L949.9,678.6 L951.8,680.9 L953.8,683.2 L955.7,685.5 L957.7,687.7 L959.7,690.0 L961.7,692.2 L963.8,694.4 L965.8,696.6 L967.9,698.8 L969.9,701.0 L972.0,703.1 L974.2,705.2 L976.3,707.3 L978.4,709.3 L980.6,711.4 L982.8,713.4 L985.0,715.4 L987.2,717.3 L989.5,719.3 L991.8,721.2 L994.0,723.1 L996.4,724.9 L998.7,726.7 L1001.1,728.5 L1003.4,730.2 L1005.8,732.0 L1008.3,733.6 L1010.7,735.3 L1013.2,736.9 L1015.7,738.4 L1018.3,739.9 L1020.8,741.4 L1023.4,742.8 L1026.1,744.1 L1028.7,745.4 L1031.4,746.6 L1034.1,747.8 L1036.9,748.9 L1039.7,749.9 L1042.5,750.8 L1045.3,751.7 L1048.2,752.6 L1051.1,753.4 L1054.0,754.2 L1056.9,755.0 L1059.8,755.9 L1062.6,756.7 L1065.5,757.6 L1068.3,758.5 L1071.1,759.4 L1073.8,760.5 L1076.5,761.6 L1079.1,762.8 L1081.7,764.1 L1084.2,765.4 L1086.7,766.9 L1089.1,768.4 L1091.5,770.0 L1093.9,771.7 L1096.2,773.5 L1098.5,775.3 L1100.7,777.1 L1102.9,779.0 L1105.1,781.0 L1107.3,783.0 L1109.4,785.0 L1111.5,787.1 L1113.6,789.2 L1115.7,791.4 L1117.8,793.6 L1119.9,795.8 L1121.9,798.0 L1124.0,800.2 L1126.0,802.5 L1128.1,804.7 L1130.1,807.0 L1132.1,809.2 L1134.2,811.5 L1136.3,813.7 L1138.3,816.0 L1140.4,818.2 L1142.5,820.4 L1144.7,822.6 L1146.8,824.7 L1149.0,826.8 L1151.2,828.9 L1153.4,831.0 L1155.6,833.0 L1157.9,835.0 L1160.2,837.0 L1162.5,838.9 L1164.8,840.8 L1167.1,842.7 L1169.5,844.6 L1171.9,846.4 L1174.3,848.2 L1176.7,850.0 L1179.2,851.7 L1181.6,853.4 L1184.1,855.1 L1186.6,856.8 L1189.1,858.4 L1191.6,860.0 L1194.1,861.6 L1196.7,863.2 L1199.2,864.7 L1201.8,866.2 L1204.4,867.7 L1207.0,869.2 L1209.6,870.6 L1212.3,872.0 L1214.9,873.4 L1217.6,874.8 L1220.2,876.1 L1222.9,877.4 L1225.6,878.7 L1228.3,880.0 L1231.0,881.2 L1233.7,882.5 L1236.4,883.7 L1239.1,884.9 L1241.9,886.0 L1244.6,887.1 L1247.4,888.3 L1250.1,889.4 L1252.9,890.4 L1255.7,891.5 L1258.5,892.5 L1261.3,893.5 L1264.1,894.5 L1266.9,895.5 L1269.7,896.5 L1272.6,897.4 L1275.4,898.3 L1278.3,899.2 L1281.1,900.1 L1284.0,901.0 L1286.8,901.9 L1289.7,902.7 L1292.6,903.5 L1295.5,904.3 L1298.3,905.1 L1301.2,905.9 L1304.1,906.6 L1307.0,907.3 L1310.0,908.1 L1312.9,908.8 L1315.8,909.5 L1318.7,910.1 L1321.6,910.8 L1324.6,911.5 L1327.5,912.1 L1330.4,912.7 L1333.4,913.3 L1336.3,913.9 L1339.3,914.5 L1342.2,915.1 L1345.2,915.6 L1348.2,916.2 L1351.1,916.7 L1354.1,917.2 L1357.1,917.7 L1360.0,918.2 L1363.0,918.7 L1366.0,919.2 L1369.0,919.7 L1371.9,920.2 L1374.9,920.6 L1377.9,921.0 L1380.9,921.5 L1383.9,921.9 L1386.8,922.3 L1389.8,922.7 L1392.8,923.1 L1395.8,923.5 L1398.8,923.9 L1401.8,924.3 L1404.7,924.7 L1407.7,925.0 L1410.7,925.4 L1413.7,925.7 L1416.7,926.1 L1419.6,926.4 L1422.6,926.7 L1425.6,927.1 L1428.6,927.4 L1431.5,927.7 L1434.5,928.0 L1437.5,928.3 L1440.5,928.7 L1443.4,929.0 L1446.4,929.3 L1449.3,929.6 L1452.3,929.9 L1455.2,930.2 L1458.2,930.4 L1461.1,930.7 L1464.1,931.0 L1467.0,931.3 L1469.9,931.6 L1472.9,931.9 L1475.8,932.2 L1478.7,932.4 L1481.6,932.7"/>
</g>
<rect x="190" y="25" width="1294" height="3" fill="#808080"/>
<rect x="190" y="28" width="1294" height="3" fill="#333"/>
<rect x="190" y="28" width="5.5" height="962" fill="#5f5f5f"/>
<rect x="1478" y="28" width="3" height="950" fill="#d8d8d8"/>
<rect x="1484" y="25" width="3" height="965" fill="#e0e0e0"/>
<rect x="1481" y="25" width="3" height="965" fill="#000"/>
<rect x="174" y="978" width="1310" height="3" fill="#3a3a3a"/>
<rect x="174" y="981" width="1310" height="3" fill="#707070"/>
<rect x="183" y="888.2" width="8" height="3" fill="#000"/>
<rect x="174" y="793.8" width="16" height="2.8" fill="#d0d0d0"/>
<rect x="174" y="796.6" width="17" height="3" fill="#000"/>
<rect x="183" y="705.0" width="8" height="3" fill="#000"/>
<rect x="174" y="610.6" width="16" height="2.8" fill="#d0d0d0"/>
<rect x="174" y="613.4" width="17" height="3" fill="#000"/>
<rect x="183" y="521.8" width="8" height="3" fill="#000"/>
<rect x="174" y="427.4" width="16" height="2.8" fill="#d0d0d0"/>
<rect x="174" y="430.2" width="17" height="3" fill="#000"/>
<rect x="183" y="338.6" width="8" height="3" fill="#000"/>
<rect x="174" y="244.2" width="16" height="2.8" fill="#d0d0d0"/>
<rect x="174" y="247.0" width="17" height="3" fill="#000"/>
<rect x="183" y="155.4" width="8" height="3" fill="#000"/>
<rect x="174" y="61.0" width="16" height="2.8" fill="#d0d0d0"/>
<rect x="174" y="63.8" width="17" height="3" fill="#000"/>
<rect x="352.2" y="984" width="3" height="16" fill="#000"/>
<rect x="355.2" y="984" width="3" height="15" fill="#bbb"/>
<rect x="513.5" y="984" width="3" height="6" fill="#000"/>
<rect x="674.8" y="984" width="3" height="16" fill="#000"/>
<rect x="677.8" y="984" width="3" height="15" fill="#bbb"/>
<rect x="836.0" y="984" width="3" height="6" fill="#000"/>
<rect x="997.2" y="984" width="3" height="16" fill="#000"/>
<rect x="1000.2" y="984" width="3" height="15" fill="#bbb"/>
<rect x="1158.5" y="984" width="3" height="6" fill="#000"/>
<rect x="1319.8" y="984" width="3" height="16" fill="#000"/>
<rect x="1322.8" y="984" width="3" height="15" fill="#bbb"/>
<g font-family="'Liberation Sans', Arial, Helvetica, sans-serif" font-size="47" fill="#000">
<text x="159.7" y="994.9" text-anchor="end">0.0</text>
<text x="159.7" y="811.7" text-anchor="end">0.5</text>
<text x="159.7" y="628.5" text-anchor="end">1.0</text>
<text x="159.7" y="445.3" text-anchor="end">1.5</text>
<text x="159.7" y="262.1" text-anchor="end">2.0</text>
<text x="159.7" y="78.9" text-anchor="end">2.5</text>
<text x="353.2" y="1050" text-anchor="middle">280</text>
<text x="675.8" y="1050" text-anchor="middle">300</text>
<text x="998.2" y="1050" text-anchor="middle">320</text>
<text x="1320.8" y="1050" text-anchor="middle">340</text>
</g>
<text transform="matrix(0.59621,0,0,0.61429,615.40,1137.50)" font-family="'Liberation Sans', Arial, Helvetica, sans-serif" font-size="100">Wavelength [nm]</text>
<text transform="matrix(0,-0.59357,0.60571,0,72.5,662.50)" font-family="'Liberation Sans', Arial, Helvetica, sans-serif" font-size="100">Absorbance</text>
<rect x="1071.5" y="81.8" width="137" height="4.4" fill="#000000"/>
<text transform="matrix(0.59629,0,0,0.61571,1220.73,104.30)" font-family="'Liberation Sans', Arial, Helvetica, sans-serif" font-size="100">1,5-PhDI</text>
<rect x="1071.5" y="154.8" width="137" height="4.4" fill="#8000ff"/>
<text transform="matrix(0.59602,0,0,0.61571,1220.73,176.00)" font-family="'Liberation Sans', Arial, Helvetica, sans-serif" font-size="100">1,4-PhDI</text>
<rect x="1071.5" y="226.8" width="137" height="4.4" fill="#0000ff"/>
<text transform="matrix(0.59816,0,0,0.61571,1219.91,249.80)" font-family="'Liberation Sans', Arial, Helvetica, sans-serif" font-size="100">2,6-PhDI</text>
<rect x="1071.5" y="299.0" width="137" height="4.4" fill="#ff0000"/>
<text transform="matrix(0.59348,0,0,0.61571,1221.65,321.00)" font-family="'Liberation Sans', Arial, Helvetica, sans-serif" font-size="100">1-PMDI</text>
<rect x="1071.5" y="371.6" width="137" height="4.4" fill="#008000"/>
<text transform="matrix(0.59676,0,0,0.61571,1220.51,393.20)" font-family="'Liberation Sans', Arial, Helvetica, sans-serif" font-size="100">3,3'-PhDI</text>
</svg>
</body></html>
